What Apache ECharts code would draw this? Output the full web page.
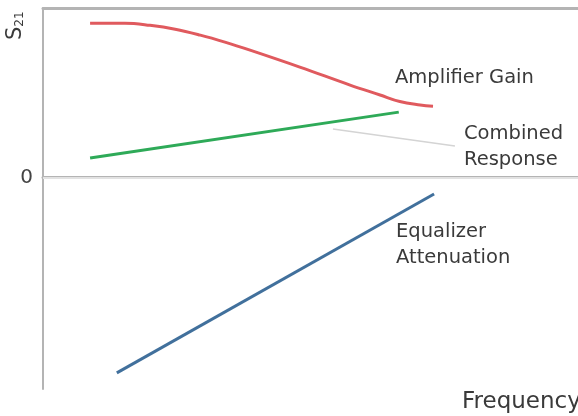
<!DOCTYPE html>
<html><head><meta charset="utf-8">
<script src="https://cdn.jsdelivr.net/npm/echarts@6/dist/echarts.min.js"></script>
<style>html,body{margin:0;padding:0;background:#fff}#c{width:578px;height:416px}</style>
</head><body><div id="c"></div>
<script>
// Frequency is in arbitrary units 0..100, S21 in arbitrary units (0 = reference line)
const ampFreq = [8.8, 15.3, 20.0, 24.7, 29.4, 34.0, 38.7, 48.0, 57.4, 63.0, 66.7, 70.5, 72.9];
const ampGain = [7.28, 7.28, 7.18, 7.00, 6.72, 6.39, 6.01, 5.21, 4.36, 3.89, 3.58, 3.42, 3.36];
const combFreq = [8.8, 66.5];
const combVal = [0.91, 3.08];
const leaderFreq = [54.2, 77.0];
const leaderVal = [2.28, 1.48];
const eqFreq = [13.8, 73.1];
const eqVal = [-9.24, -0.79];
const yTickLabels = [0];
const labels = {
  amp: 'Amplifier Gain',
  comb: 'Combined\nResponse',
  eq: 'Equalizer\nAttenuation',
  xName: 'Frequency'
};

const zip = (a, b) => a.map((v, i) => [v, b[i]]);
const FONT = 'DejaVu Sans';
const TXT = '#3a3a3a';
const AX = '#b4b4b4';

const chart = echarts.init(document.getElementById('c'), null, {renderer: 'canvas'});
chart.setOption({
  animation: false,
  backgroundColor: '#ffffff',
  grid: {left: 43, right: 0, top: 8, bottom: 27},
  xAxis: [
    {type: 'value', min: 0, max: 100, axisLine: {show: true, lineStyle: {color: AX, width: 3}},
     axisTick: {show: false}, axisLabel: {show: false}, splitLine: {show: false}},
    {type: 'value', position: 'top', min: 0, max: 100, axisLine: {show: true, lineStyle: {color: AX, width: 3}},
     axisTick: {show: false}, axisLabel: {show: false}, splitLine: {show: false}}
  ],
  yAxis: {
    type: 'value', min: -10, max: 8, interval: 2,
    axisLine: {show: true, lineStyle: {color: AX, width: 2}},
    axisTick: {show: false}, splitLine: {show: false},
    axisLabel: {formatter: v => yTickLabels.includes(v) ? String(v) : '', fontSize: 20, color: '#444',
      margin: 10, fontFamily: FONT}
  },
  series: [
    {type: 'line', data: zip(ampFreq, ampGain), smooth: 0.4, showSymbol: false, symbol: 'none',
     lineStyle: {color: '#e05a5e', width: 3}},
    {type: 'line', data: zip(combFreq, combVal), showSymbol: false, symbol: 'none',
     lineStyle: {color: '#2eaa58', width: 3}},
    {type: 'line', data: zip(leaderFreq, leaderVal), showSymbol: false, symbol: 'none',
     lineStyle: {color: '#d4d4d4', width: 1.5}},
    {type: 'line', data: zip(eqFreq, eqVal), showSymbol: false, symbol: 'none',
     lineStyle: {color: '#41709c', width: 3},
     markLine: {silent: true, symbol: 'none', label: {show: false},
       lineStyle: {color: '#e2e2e2', width: 2, type: 'solid'}, data: [{yAxis: 0}]}}
  ],
  graphic: [
    {type: 'text', x: 395, y: 68, style: {text: labels.amp, font: '19.5px "' + FONT + '"', fill: TXT}},
    {type: 'text', x: 464, y: 121, style: {text: labels.comb, font: '19.5px "' + FONT + '"', fill: TXT, lineHeight: 26}},
    {type: 'text', x: 396, y: 219, style: {text: labels.eq, font: '19.5px "' + FONT + '"', fill: TXT, lineHeight: 26}},
    {type: 'text', x: 462, y: 391, style: {text: labels.xName, font: '23px "' + FONT + '"', fill: TXT}},
    {type: 'text', x: 5, y: 40, rotation: Math.PI / 2,
     style: {text: '{s|S}{sub|21}', fill: TXT,
       rich: {s: {fontSize: 21, fontFamily: FONT, fill: TXT}, sub: {fontSize: 12, fontFamily: FONT, fill: TXT, padding: [8, 0, 0, 0]}}}}
  ]
});
</script></body></html>
